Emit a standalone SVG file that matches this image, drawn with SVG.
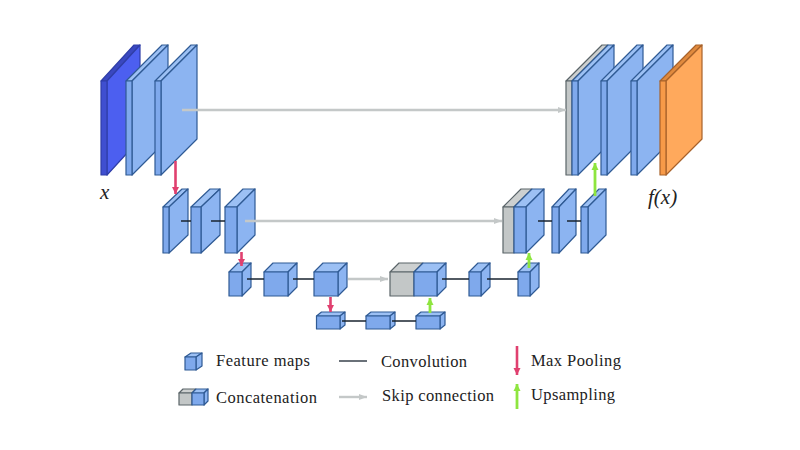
<svg xmlns="http://www.w3.org/2000/svg" width="800" height="450" viewBox="0 0 800 450">
<style>
polygon,rect{stroke:#2f5a94;stroke-width:1.2;stroke-linejoin:round}
.f{fill:#7fa9ec}.s{fill:#8cb4f1}.t{fill:#9cc0f4}
.gf{fill:#c3c7c7;stroke:#5a6468}.gt{fill:#cdd0d0;stroke:#5a6468}
.df{fill:#3f4fd0;stroke:#2f3ea8}.ds{fill:#4c5ff0;stroke:#2f3ea8}.dt{fill:#3a48c0;stroke:#2f3ea8}
.of{fill:#f79a48;stroke:#a8622a}.os{fill:#ffa95c;stroke:#a8622a}.ot{fill:#e08a3e;stroke:#a8622a}
.conv{stroke:#1a2530;stroke-width:1.3;fill:none}
.skip{stroke:#c4c8c8;stroke-width:2.4;fill:none}
.pool{stroke:#e0406f;stroke-width:2.6;fill:none}
.up{stroke:#8ee53f;stroke-width:2.8;fill:none}
text{font-family:"Liberation Serif","DejaVu Serif",serif;font-size:16.5px;fill:#222}
.m{font-style:italic;font-size:21px}
</style>
<defs>
<marker id="ag" markerUnits="userSpaceOnUse" markerWidth="10" markerHeight="8" refX="8" refY="4" orient="auto"><path d="M0 1L8 4L0 7z" fill="#c4c8c8"/></marker>
<marker id="ar" markerUnits="userSpaceOnUse" markerWidth="8" markerHeight="8" refX="7" refY="4" orient="auto"><path d="M0 0.5L7 4L0 7.500z" fill="#e0406f"/></marker>
<marker id="au" markerUnits="userSpaceOnUse" markerWidth="8" markerHeight="8" refX="7" refY="4" orient="auto"><path d="M0 0.5L7 4L0 7.500z" fill="#8ee53f"/></marker>
</defs>

<g id="input"><polygon class="dt" points="101,81 134,45 140,45 107,81"/><polygon class="ds" points="107,81 140,45 140,139 107,175"/><rect class="df" x="101" y="81" width="6" height="94"/></g>
<g id="e1a"><polygon class="t" points="126,81 162,45 168,45 132,81"/><polygon class="s" points="132,81 168,45 168,139 132,175"/><rect class="f" x="126" y="81" width="6" height="94"/></g>
<g id="e1b"><polygon class="t" points="155,81 191,45 197,45 161,81"/><polygon class="s" points="161,81 197,45 197,139 161,175"/><rect class="f" x="155" y="81" width="6" height="94"/></g>

<g id="e2a"><polygon class="t" points="163,207 182,189 188,189 169,207"/><polygon class="s" points="169,207 188,189 188,235 169,253"/><rect class="f" x="163" y="207" width="6" height="46"/></g>
<g id="e2b"><polygon class="t" points="191,207 210,189 220,189 201,207"/><polygon class="s" points="201,207 220,189 220,235 201,253"/><rect class="f" x="191" y="207" width="10" height="46"/></g>
<g id="e2c"><polygon class="t" points="225,207 243,189 255,189 237,207"/><polygon class="s" points="237,207 255,189 255,235 237,253"/><rect class="f" x="225" y="207" width="12" height="46"/></g>

<g id="e3a"><polygon class="t" points="229,272 238,263 251,263 242,272"/><polygon class="s" points="242,272 251,263 251,287 242,296"/><rect class="f" x="229" y="272" width="13" height="24"/></g>
<g id="e3b"><polygon class="t" points="264,272 273,263 297,263 288,272"/><polygon class="s" points="288,272 297,263 297,287 288,296"/><rect class="f" x="264" y="272" width="24" height="24"/></g>
<g id="e3c"><polygon class="t" points="314,272 323,263 347,263 338,272"/><polygon class="s" points="338,272 347,263 347,287 338,296"/><rect class="f" x="314" y="272" width="24" height="24"/></g>

<g id="b1"><polygon class="t" points="316.500,316 321.500,312 345,312 340,316"/><polygon class="s" points="340,316 345,312 345,325 340,329"/><rect class="f" x="316.500" y="316" width="23.500" height="13"/></g>
<g id="b2"><polygon class="t" points="366,316 371,312 395,312 390,316"/><polygon class="s" points="390,316 395,312 395,325 390,329"/><rect class="f" x="366" y="316" width="24" height="13"/></g>
<g id="b3"><polygon class="t" points="416,316 421,312 445,312 440,316"/><polygon class="s" points="440,316 445,312 445,325 440,329"/><rect class="f" x="416" y="316" width="24" height="13"/></g>

<g id="d3a"><polygon class="gt" points="390,272 399,263 423,263 414,272"/><rect class="gf" x="390" y="272" width="24" height="24"/><polygon class="t" points="414,272 423,263 446,263 437,272"/><polygon class="s" points="437,272 446,263 446,287 437,296"/><rect class="f" x="414" y="272" width="23" height="24"/></g>
<g id="d3b"><polygon class="t" points="469,272 478,263 490,263 481,272"/><polygon class="s" points="481,272 490,263 490,287 481,296"/><rect class="f" x="469" y="272" width="12" height="24"/></g>
<g id="d3c"><polygon class="t" points="518,272 527,263 539,263 530,272"/><polygon class="s" points="530,272 539,263 539,287 530,296"/><rect class="f" x="518" y="272" width="12" height="24"/></g>

<g id="d2a"><polygon class="gt" points="503,207 521,189 532,189 514,207"/><rect class="gf" x="503" y="207" width="11" height="46"/><polygon class="t" points="514,207 532,189 544,189 526,207"/><polygon class="s" points="526,207 544,189 544,235 526,253"/><rect class="f" x="514" y="207" width="12" height="46"/></g>
<g id="d2b"><polygon class="t" points="552,207 569,189 576,189 559,207"/><polygon class="s" points="559,207 576,189 576,235 559,253"/><rect class="f" x="552" y="207" width="7" height="46"/></g>
<g id="d2c"><polygon class="t" points="581,207 599,189 606,189 588,207"/><polygon class="s" points="588,207 606,189 606,235 588,253"/><rect class="f" x="581" y="207" width="7" height="46"/></g>

<g id="d1a"><polygon class="gt" points="566,81 602,45 608,45 572,81"/><rect class="gf" x="566" y="81" width="6" height="94"/><polygon class="t" points="572,81 608,45 614,45 578,81"/><polygon class="s" points="578,81 614,45 614,139 578,175"/><rect class="f" x="572" y="81" width="6" height="94"/></g>
<g id="d1b"><polygon class="t" points="601,81 637,45 643,45 607,81"/><polygon class="s" points="607,81 643,45 643,139 607,175"/><rect class="f" x="601" y="81" width="6" height="94"/></g>
<g id="d1c"><polygon class="t" points="631,81 667,45 673,45 637,81"/><polygon class="s" points="637,81 673,45 673,139 637,175"/><rect class="f" x="631" y="81" width="6" height="94"/></g>
<g id="output"><polygon class="ot" points="660,81 696,45 702,45 666,81"/><polygon class="os" points="666,81 702,45 702,139 666,175"/><rect class="of" x="660" y="81" width="6" height="94"/></g>

<g id="connectors">
<path class="skip" marker-end="url(#ag)" d="M182 110H566"/>
<path class="skip" marker-end="url(#ag)" d="M245 221H502"/>
<path class="skip" marker-end="url(#ag)" d="M348 279H388"/>
<path class="conv" d="M181 221H191M211 221H225M538 221H552M567 221H581M247 279H264M293 279H314M442 279H469M487 279H518M342 321H366M392 321H416"/>
<path class="pool" marker-end="url(#ar)" d="M175.500 161V194"/>
<path class="pool" marker-end="url(#ar)" d="M241.500 252V266"/>
<path class="pool" marker-end="url(#ar)" d="M330.500 297V312"/>
<path class="up" marker-end="url(#au)" d="M595 196V163"/>
<path class="up" marker-end="url(#au)" d="M529 268V253"/>
<path class="up" marker-end="url(#au)" d="M430 313V298"/>
</g>

<g id="labels">
<text class="m" x="100" y="199">x</text>
<text class="m" x="648" y="204">f(x)</text>
</g>

<g id="legend">
<g id="legend-feature"><polygon class="t" points="185,357 191,353 202,353 196,357"/><polygon class="s" points="196,357 202,353 202,366 196,370"/><rect class="f" x="185" y="357" width="11" height="13"/></g>
<g id="legend-concat"><polygon class="gt" points="179,393 183,389 196,389 192,393"/><rect class="gf" x="179" y="393" width="13" height="12"/><polygon class="t" points="192,393 196,389 208,389 204,393"/><polygon class="s" points="204,393 208,389 208,401 204,405"/><rect class="f" x="192" y="393" width="12" height="12"/></g>
<path class="conv" d="M339 361H367"/>
<path class="skip" marker-end="url(#ag)" d="M339 397H367"/>
<path class="pool" marker-end="url(#ar)" d="M517 346V375"/>
<path class="up" marker-end="url(#au)" d="M517 409V384"/>
<text x="216" y="366" textLength="94">Feature maps</text>
<text x="381" y="367" textLength="86">Convolution</text>
<text x="531" y="366" textLength="90">Max Pooling</text>
<text x="216" y="403" textLength="101">Concatenation</text>
<text x="382" y="401" textLength="112">Skip connection</text>
<text x="531" y="400" textLength="84">Upsampling</text>
</g>
</svg>
